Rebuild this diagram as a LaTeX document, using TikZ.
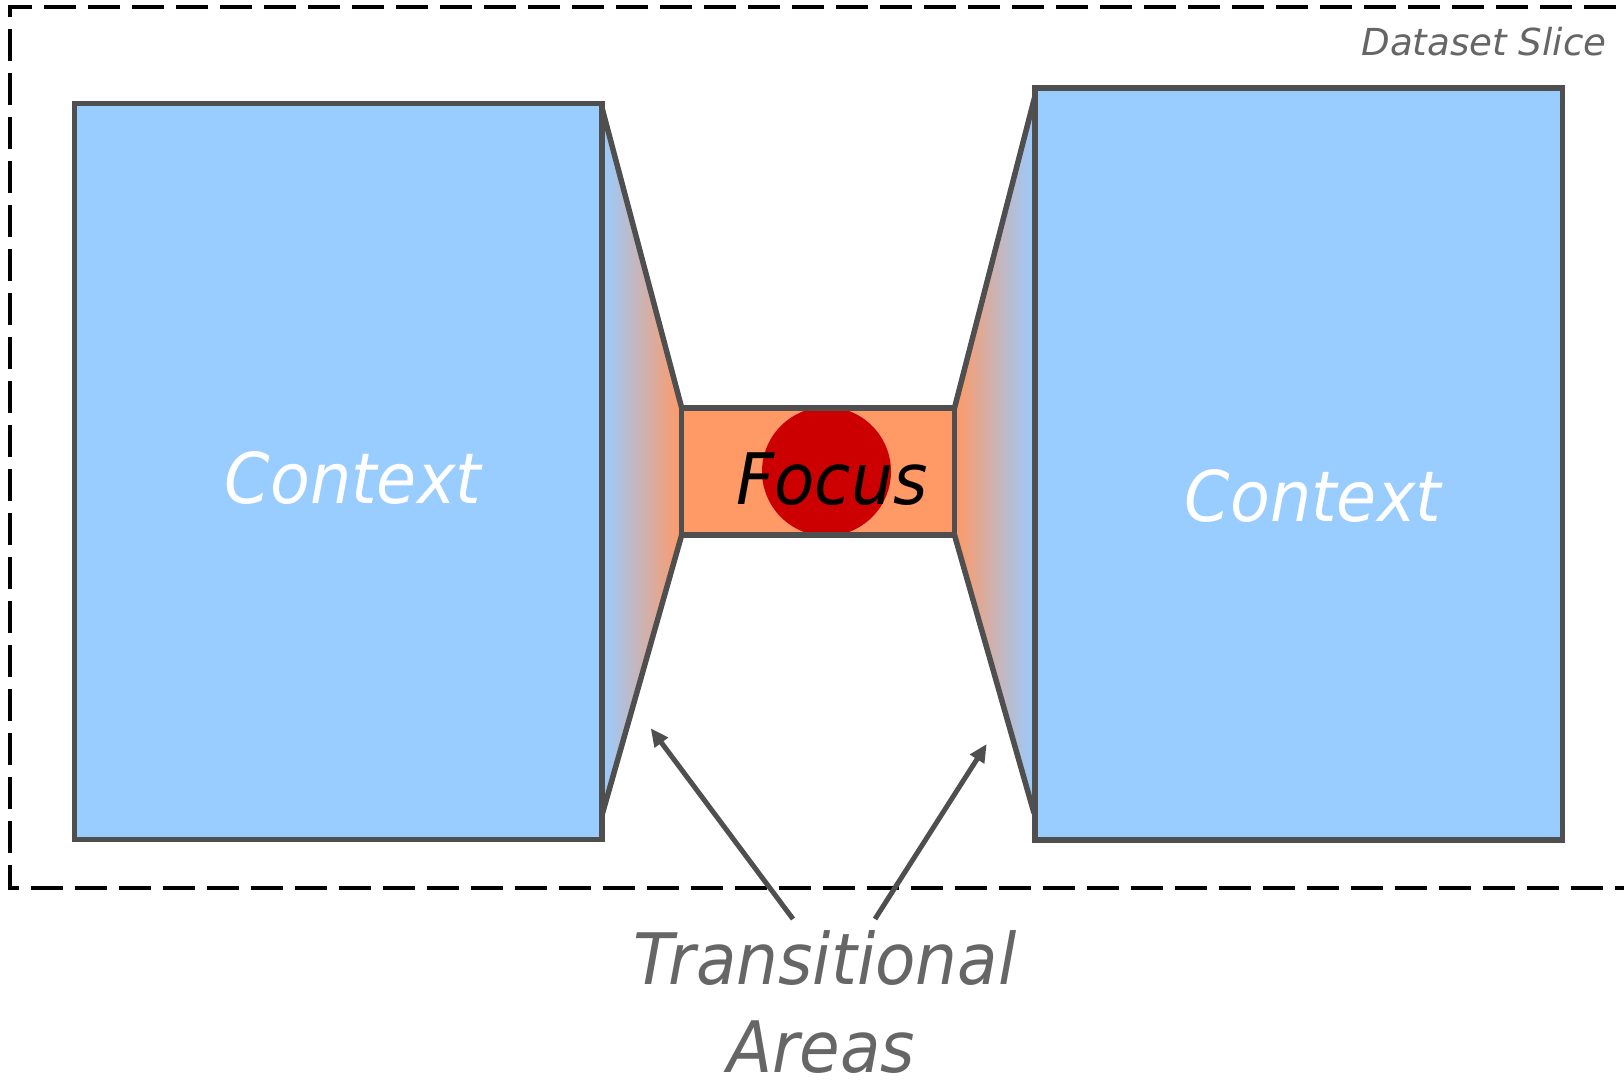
\documentclass[tikz,border=0pt]{standalone}
\usepackage{fontspec}
\newfontfamily\lblfont{DejaVu Sans}[FakeStretch=0.93]
\newfontfamily\tagfont{DejaVu Sans}
\usetikzlibrary{arrows.meta}
\definecolor{ctxblue}{HTML}{99CCFF}
\definecolor{focusorange}{HTML}{FF9966}
\definecolor{focusred}{HTML}{CC0000}
\definecolor{edgegray}{HTML}{4F4F4F}
\definecolor{labelgray}{HTML}{666666}

\begin{document}
\begin{tikzpicture}[x=0.5pt,y=-0.5pt,
  panel/.style={draw=edgegray, line width=2.75pt, inner sep=0pt, outer sep=0pt},
  edge/.style={draw=edgegray, line width=2.75pt, line join=miter},
  bigtext/.style={font=\lblfont\itshape\fontsize{35pt}{42pt}\selectfont, inner sep=0pt, anchor=base},
  pointer/.style={draw=edgegray, line width=2.5pt, -{Triangle[length=9pt,width=8pt]}},
  frame/.style={draw=black, line width=2pt, dash pattern=on 16pt off 6pt}
]
\path[use as bounding box] (0,0) rectangle (1624,1080);
\clip (0,0) rectangle (1624,1080);
\fill[white] (0,0) rectangle (1624,1080);

% outer dashed frame of the slice (right side runs past the edge)
\draw[frame] (1660,7) -- (10,7) -- (10,888) -- (1660,888);
\node[font=\tagfont\itshape\fontsize{18.6pt}{22pt}\selectfont, text=labelgray,
      inner sep=0pt, anchor=base] (slice) at (1484,56) {Dataset Slice};

% corner points of the transitional areas
\coordinate (tlA) at (602,108);
\coordinate (tlB) at (681.7,408);
\coordinate (tlC) at (681.7,535);
\coordinate (tlD) at (602,815);
\coordinate (trA) at (1035,96);
\coordinate (trB) at (954.5,408);
\coordinate (trC) at (954.5,535);
\coordinate (trD) at (1034,813);

% transitional areas: blue to orange gradients
\shade[left color=ctxblue, right color=focusorange] (tlA) -- (tlB) -- (tlC) -- (tlD) -- cycle;
\shade[left color=focusorange, right color=ctxblue] (trB) -- (trA) -- (trD) -- (trC) -- cycle;

% context panels
\node[panel, fill=ctxblue, minimum width=263.75pt, minimum height=368pt] (ctxL) at (338.25,471.5) {};
\node[panel, fill=ctxblue, minimum width=263.75pt, minimum height=376pt] (ctxR) at (1298.75,464) {};

% slanted sides of the transitional areas
\draw[edge] (tlA) -- (tlB);
\draw[edge] (tlC) -- (tlD);
\draw[edge] (trA) -- (trB);
\draw[edge] (trC) -- (trD);

% focus box with its red spot
\node[fill=focusorange, inner sep=0pt, minimum width=136.4pt, minimum height=63.5pt] (focusbg) at (818.1,471.5) {};
\node[circle, fill=focusred, inner sep=0pt, minimum size=64.5pt] (spot) at (826.5,471.5) {};
\node[panel, minimum width=136.4pt, minimum height=63.5pt] (focus) at (818.1,471.5) {};

% labels
\node[bigtext, text=white] (ctxLtxt) at (353,504) {Context};
\node[bigtext, text=white] (ctxRtxt) at (1313,521.5) {Context};
\node[bigtext, text=black, font=\lblfont\itshape\fontsize{35.5pt}{42pt}\selectfont] (focustxt) at (832,505) {Focus};
\node[bigtext, text=labelgray, font=\lblfont\itshape\fontsize{35.5pt}{42pt}\selectfont] (trans) at (825,984) {Transitional};
\node[bigtext, text=labelgray, font=\lblfont\itshape\fontsize{35.5pt}{42pt}\selectfont] (areas) at (821,1072) {Areas};

% pointers to the two transitional areas
\coordinate (pL0) at (793,919);
\coordinate (pL1) at (650.7,728.3);
\coordinate (pR0) at (875,919);
\coordinate (pR1) at (986.7,744);
\draw[pointer] (pL0) -- (pL1);
\draw[pointer] (pR0) -- (pR1);
\end{tikzpicture}
\end{document}
